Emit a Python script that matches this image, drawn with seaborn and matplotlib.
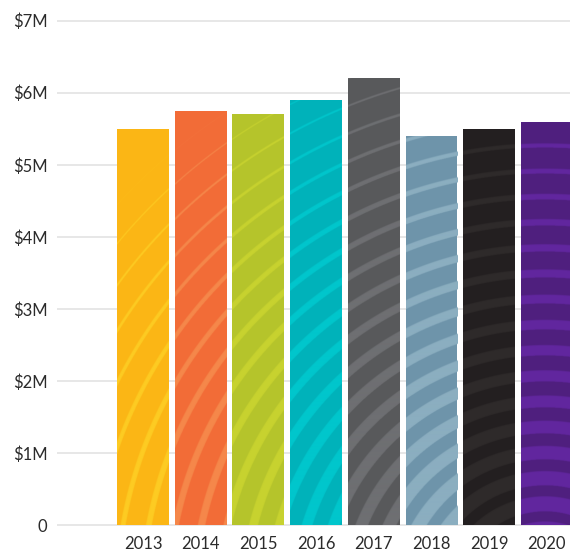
import numpy as np
import matplotlib
matplotlib.use("Agg")
import matplotlib.pyplot as plt
from matplotlib.colors import to_rgb
import seaborn as sns

# data (revenue in millions of dollars)
years = ["2013", "2014", "2015", "2016", "2017", "2018", "2019", "2020"]
revenue = [5.50, 5.75, 5.70, 5.90, 6.20, 5.40, 5.50, 5.60]
bar_colors = ["#FBB615", "#F26C37", "#B5C42B", "#00B2BA",
              "#58595B", "#6E94AA", "#231F20", "#4F1F7E"]
stripe_colors = ["#FDCB22", "#F5874A", "#C8D330", "#00C6CC",
                 "#6E6F72", "#8BAEC0", "#2E2A2B", "#62269E"]
y_ticks = [0, 1, 2, 3, 4, 5, 6, 7]
y_labels = ["0", "$1M", "$2M", "$3M", "$4M", "$5M", "$6M", "$7M"]

sns.set_theme(style="white")
plt.rcParams["font.family"] = ["Lato", "DejaVu Sans"]

fig = plt.figure(figsize=(5.7, 5.52), dpi=100)
ax = fig.add_axes([0.1, 0.0444, 0.9, 0.9313])

sns.barplot(x=years, y=revenue, hue=years, palette=bar_colors, legend=False,
            width=0.9, saturation=1, linewidth=0, ax=ax, zorder=2)

ax.set_xlim(-1.49, 7.40)
ax.set_ylim(-0.03, 7.1)
ax.set_yticks(y_ticks)
ax.set_yticklabels(y_labels)
ax.set_xlabel("")
ax.set_ylabel("")
ax.grid(axis="y", color="#e3e3e3", linewidth=1.2)
ax.grid(axis="x", visible=False)
ax.set_axisbelow(True)
sns.despine(ax=ax, left=True, bottom=True)
ax.tick_params(length=0, labelsize=12, labelcolor="#2b2b2b")
ax.tick_params(axis="y", pad=7)
ax.tick_params(axis="x", pad=6)

# decorative concentric arc stripes on every bar
fig.canvas.draw()
cx, cy = 545, 552 - 600   # ring centre in display pixels
for bar, sc in zip(list(ax.patches), stripe_colors):
    x0, w, h = bar.get_x(), bar.get_width(), bar.get_height()
    (px0, py0), (px1, py1) = ax.transData.transform([(x0, 0), (x0 + w, h)])
    nx = max(int(round(px1 - px0)) * 2, 2)
    ny = max(int(round(py1 - py0)) * 2, 2)
    X, Y = np.meshgrid(np.linspace(px0, px1, nx), np.linspace(py0, py1, ny))
    r = np.hypot(X - cx, Y - cy)
    t = np.clip(16 * (1 - (r - 75) / 520), 0, None)
    d = np.mod(r - 10, 26)
    alpha = np.clip(np.minimum(d + 0.5, t - d + 0.5), 0, 1) * np.clip(t, 0, 1)
    rgba = np.zeros((ny, nx, 4))
    rgba[..., :3] = to_rgb(sc)
    rgba[..., 3] = alpha
    im = ax.imshow(rgba, extent=(x0, x0 + w, 0, h), origin="lower",
                   aspect="auto", zorder=3, interpolation="bilinear")
    im.set_clip_path(bar)

ax.set_xlim(-1.49, 7.40)
ax.set_ylim(-0.03, 7.1)

fig.savefig("out.png", dpi=100)
